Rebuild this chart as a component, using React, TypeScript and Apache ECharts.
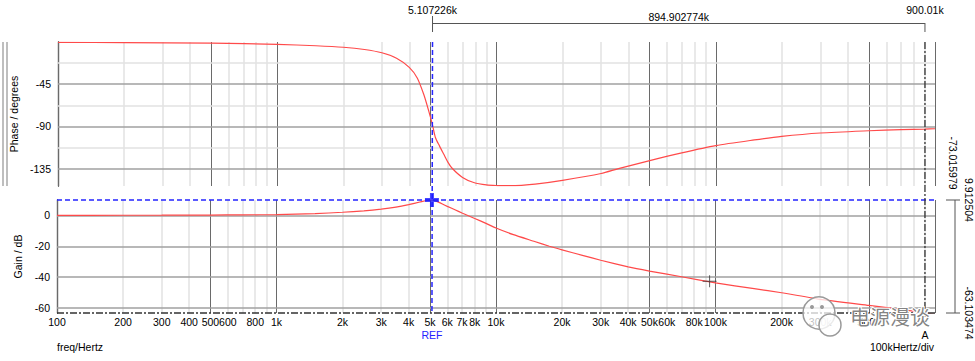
import React, { useEffect, useRef } from "react";
import * as echarts from "echarts";

// ---------- data ----------
const phaseFreq = [100, 200, 500, 1000, 1500, 2000, 2500, 3000, 3500, 4000, 4350, 4660, 4910, 5107, 5270, 5500, 5750, 6000, 6275, 7000, 7870, 9000, 10000, 11500, 13000, 15000, 20000, 30000, 36000, 50000, 70000, 100000, 150000, 200000, 300000, 500000, 700000, 900000, 1000000];
const phaseDeg = [-0.4, -0.7, -1.3, -2.5, -4.0, -5.6, -8.0, -11.5, -17.3, -27.0, -38.3, -56.0, -73.7, -88.5, -102.0, -111.0, -119.7, -128.0, -134.6, -144.4, -149.8, -152.4, -153.0, -153.2, -152.8, -151.6, -147.5, -140.2, -135.0, -126.4, -118.2, -110.5, -104.4, -100.6, -97.0, -94.6, -93.4, -92.8, -92.5];

const gainFreq = [100, 200, 300, 500, 700, 1000, 1500, 2000, 2500, 3000, 3500, 4000, 4500, 4800, 5107.226, 5360, 5700, 6000, 6500, 7000, 8000, 9000, 10000, 12000, 15000, 17500, 20000, 25000, 30000, 40000, 50000, 70000, 100000, 150000, 200000, 300000, 500000, 700000, 900010, 1000000];
const gainDb = [0, 0.05, 0.1, 0.2, 0.3, 0.5, 1.1, 2.0, 2.9, 4.0, 5.3, 6.9, 8.6, 9.5, 9.91, 9.0, 7.3, 5.8, 3.6, 1.5, -2.0, -5.2, -8.2, -12.5, -16.9, -20.0, -22.3, -26.0, -29.0, -33.3, -36.0, -39.7, -43.6, -47.4, -50.0, -54.3, -58.2, -60.8, -63.1, -64.0];

const xTickLabels = [100, 200, 300, 400, 500, 600, 800, 1000, 2000, 3000, 4000, 5000, 6000, 7000, 8000, 10000, 20000, 30000, 40000, 50000, 60000, 80000, 100000, 200000, 300000, 500000];
const majorXGrid = [100, 500, 1000, 5000, 10000, 50000, 100000, 500000, 1000000];
const minorXGrid = [200, 300, 400, 600, 700, 800, 900, 2000, 3000, 4000, 6000, 7000, 8000, 9000, 20000, 30000, 40000, 60000, 70000, 80000, 90000, 200000, 300000, 400000, 600000, 700000, 800000, 900000];

const phaseTicks = [-45, -90, -135];
const phaseMinorTicks = [-22.5, -67.5, -112.5];
const gainTicks = [0, -20, -40, -60];

const phaseMax = 0;
const phaseMin = -153.5;
const refFreq = 5107.226;
const refGain = 9.912504;
const cursorAFreq = 900010;
const cursorAGain = -63.103474;
const refFreqLabel = "5.107226k";
const aFreqLabel = "900.01k";
const deltaFreqLabel = "894.902774k";
const phaseReadout = "-73.015979";
const gainMaxReadout = "9.912504";
const gainMinReadout = "-63.103474";
const markerPoint = [94000, -42.6];

const FONT = '"Liberation Sans", Arial, sans-serif';
const fmtFreq = (v: number) => (v >= 1000 ? `${+(v / 1000).toPrecision(6)}k` : `${v}`);

const minorStyle = { color: "#e2e2e2", width: 1.5, type: "solid" };
const majorVStyle = { color: "#6a6a6a", width: 1, type: "solid" };
const majorHStyle = { color: "#a0a0a0", width: 1.6, type: "solid" };

export default function App() {
  const ref = useRef<HTMLDivElement>(null);
  useEffect(() => {
    const chart = echarts.init(ref.current!, null, { renderer: "svg" });
    const xLines = [
      ...minorXGrid.map((v) => ({ xAxis: v, lineStyle: minorStyle })),
      ...majorXGrid.map((v) => ({ xAxis: v, lineStyle: majorVStyle })),
    ];
    const yAxisBase = {
      axisLine: { show: true, lineStyle: { color: "#222", width: 1.3 } },
      axisTick: { show: false },
      splitLine: { show: false },
      nameLocation: "middle",
      nameRotate: 90,
      nameTextStyle: { color: "#000", fontSize: 10.5, fontFamily: FONT },
    };
    const option: any = {
      animation: false,
      textStyle: { fontFamily: FONT },
      grid: [
        { left: 57, right: 40, top: 42, height: 144 },
        { left: 57, right: 40, top: 200, height: 113 },
      ],
      xAxis: [0, 1].map((i) => ({
        type: "log",
        logBase: 10,
        min: 100,
        max: 1000000,
        gridIndex: i,
        axisLine: { show: false },
        axisTick: { show: false },
        axisLabel: { show: false },
        splitLine: { show: false },
      })),
      yAxis: [
        {
          ...yAxisBase,
          gridIndex: 0,
          min: phaseMin,
          max: phaseMax,
          name: "Phase / degrees",
          nameGap: 39,
          axisLabel: { customValues: phaseTicks, color: "#000", fontSize: 10.5, margin: 7, fontFamily: FONT },
        },
        {
          ...yAxisBase,
          gridIndex: 1,
          min: cursorAGain,
          max: refGain,
          name: "Gain / dB",
          nameGap: 33,
          axisLabel: { customValues: gainTicks, color: "#000", fontSize: 10.5, margin: 7, fontFamily: FONT },
        },
      ],
      series: [
        {
          type: "line",
          xAxisIndex: 0,
          yAxisIndex: 0,
          data: phaseFreq.map((f, i) => [f, phaseDeg[i]]),
          symbol: "none",
          smooth: 0.25,
          z: 3,
          lineStyle: { color: "#ff4a4a", width: 1.2 },
          markLine: {
            silent: true,
            symbol: ["none", "none"],
            z: 1,
            label: { show: false },
            data: [
              ...xLines,
              ...phaseMinorTicks.map((v) => ({ yAxis: v, lineStyle: minorStyle })),
              ...phaseTicks.map((v) => ({ yAxis: v, lineStyle: majorHStyle })),
            ],
          },
        },
        {
          type: "line",
          xAxisIndex: 1,
          yAxisIndex: 1,
          data: gainFreq.map((f, i) => [f, gainDb[i]]),
          symbol: "none",
          smooth: 0.15,
          z: 3,
          lineStyle: { color: "#ff4a4a", width: 1.2 },
          markLine: {
            silent: true,
            symbol: ["none", "none"],
            z: 1,
            label: { show: false },
            data: [...xLines, ...gainTicks.map((v) => ({ yAxis: v, lineStyle: majorHStyle }))],
          },
        },
        {
          type: "custom",
          xAxisIndex: 1,
          yAxisIndex: 1,
          clip: false,
          silent: true,
          data: xTickLabels.map((v) => [v, cursorAGain]),
          encode: { x: 0, y: 1 },
          renderItem: (params: any, api: any) => {
            const v = api.value(0);
            const p = api.coord([v, cursorAGain]);
            return {
              type: "text",
              x: p[0],
              y: p[1] + 3,
              style: {
                text: fmtFreq(v),
                textAlign: "center",
                textVerticalAlign: "top",
                align: "center",
                verticalAlign: "top",
                fill: "#000",
                font: `10.5px ${FONT}`,
              },
            };
          },
        },
        {
          type: "scatter",
          xAxisIndex: 1,
          yAxisIndex: 1,
          clip: false,
          silent: true,
          z: 12,
          data: [[refFreq, refGain]],
          symbol: "path://M5,0h4v14h-4zM0,5h14v4h-14z",
          symbolSize: 14,
          itemStyle: { color: "#1a1aff" },
        },
        {
          type: "scatter",
          xAxisIndex: 1,
          yAxisIndex: 1,
          silent: true,
          z: 4,
          data: [markerPoint],
          symbol: "path://M0,5.5h14v1h-14zM6.5,0h1v12h-1z",
          symbolSize: [14, 12],
          itemStyle: { color: "#333" },
        },
      ],
    };
    chart.setOption(option);

    const g0 = (v: number[]) => chart.convertToPixel({ gridIndex: 0 } as any, v) as unknown as number[];
    const g1 = (v: number[]) => chart.convertToPixel({ gridIndex: 1 } as any, v) as unknown as number[];
    const refTop = g0([refFreq, phaseMax]);
    const refBot = g1([refFreq, cursorAGain]);
    const aTop = g0([cursorAFreq, phaseMax]);
    const aBot = g1([cursorAFreq, cursorAGain]);
    const lt = g1([100, refGain]);
    const rt = g1([1000000, refGain]);
    const lb = g1([100, cursorAGain]);
    const rb = g1([1000000, cursorAGain]);
    const phTop = g0([100, phaseMax]);
    const phBot = g0([100, phaseMin]);

    const line = (x1: number, y1: number, x2: number, y2: number, style: any, z = 10) => ({
      type: "line",
      z,
      silent: true,
      shape: { x1, y1, x2, y2 },
      style: { lineWidth: 1, stroke: "#555", ...style },
    });
    const text = (x: number, y: number, t: string, opts: any = {}, rotation = 0) => ({
      type: "text",
      x,
      y,
      z: 11,
      rotation,
      silent: true,
      style: {
        text: t,
        fill: "#000",
        font: `10.5px ${FONT}`,
        textAlign: "center",
        textVerticalAlign: "middle",
        align: "center",
        verticalAlign: "middle",
        ...opts,
      },
    });
    const blue = { stroke: "#2424ff", lineWidth: 1.5, lineDash: [5, 3] };
    const dashDot = { stroke: "#333", lineWidth: 1.3, lineDash: [7, 2, 2, 2] };
    const rightX = rt[0] + 20;

    const elements: any[] = [
      // left double bar beside phase panel
      line(3, phTop[1], 3, phBot[1], { stroke: "#a8a8a8", lineWidth: 1.5 }),
      line(7, phTop[1], 7, phBot[1], { stroke: "#a8a8a8", lineWidth: 1.5 }),
      // cursors
      line(refTop[0], refTop[1], refBot[0], refBot[1] + 1, blue),
      line(lt[0], lt[1], rt[0], rt[1], blue),
      line(aTop[0], aTop[1], aBot[0], aBot[1] + 4, dashDot),
      line(lb[0], lb[1], rb[0], rb[1], dashDot),
      // top bracket
      line(refTop[0], 23.5, aTop[0], 23.5, { stroke: "#555" }),
      line(refTop[0], 16, refTop[0], 32, { stroke: "#555" }),
      line(aTop[0], 23, aTop[0], 32, { stroke: "#555" }),
      text(refTop[0], 9.5, refFreqLabel),
      text(aTop[0], 9.5, aFreqLabel),
      text((refTop[0] + aTop[0]) / 2, 16.5, deltaFreqLabel),
      // right bracket
      line(rightX, lt[1], rightX, lb[1], { stroke: "#555" }),
      line(rightX - 9, lt[1], rightX + 5, lt[1], { stroke: "#555" }),
      line(rightX - 9, lb[1], rightX + 5, lb[1], { stroke: "#555" }),
      text(953, 163, phaseReadout, {}, -Math.PI / 2),
      text(969, lt[1], gainMaxReadout, {}, -Math.PI / 2),
      text(969, lb[1], gainMinReadout, {}, -Math.PI / 2),
      // bottom labels
      text(refBot[0], 335, "REF", { fill: "#2424ff" }),
      text(aBot[0], 334.5, "A"),
      text(lb[0], 347, "freq/Hertz", { textAlign: "left", align: "left" }),
      text(902, 347, "100kHertz/div"),
      // watermark
      {
        type: "circle",
        z: 20,
        silent: true,
        shape: { cx: 819, cy: 313, r: 16 },
        style: { fill: "rgba(255,255,255,0.75)", stroke: "#9a9a9a", lineWidth: 1.5 },
      },
      {
        type: "circle",
        z: 20,
        silent: true,
        shape: { cx: 830, cy: 325, r: 11 },
        style: { fill: "rgba(255,255,255,0.8)", stroke: "#9a9a9a", lineWidth: 1.5 },
      },
      { type: "circle", z: 21, silent: true, shape: { cx: 812, cy: 307, r: 2 }, style: { fill: "#9a9a9a" } },
      { type: "circle", z: 21, silent: true, shape: { cx: 822, cy: 307, r: 2 }, style: { fill: "#9a9a9a" } },
      {
        type: "text",
        z: 21,
        silent: true,
        x: 850,
        y: 316,
        style: {
          text: "电源漫谈",
          font: '20px "Noto Sans CJK SC", sans-serif',
          fill: "rgba(110,110,110,0.85)",
          stroke: "#fff",
          lineWidth: 2,
          textAlign: "left",
          textVerticalAlign: "middle",
          align: "left",
          verticalAlign: "middle",
        },
      },
    ];
    chart.setOption({ graphic: { elements } });
    return () => chart.dispose();
  }, []);
  return <div ref={ref} style={{ position: "absolute", left: 0, top: 0, width: 975, height: 361 }} />;
}
